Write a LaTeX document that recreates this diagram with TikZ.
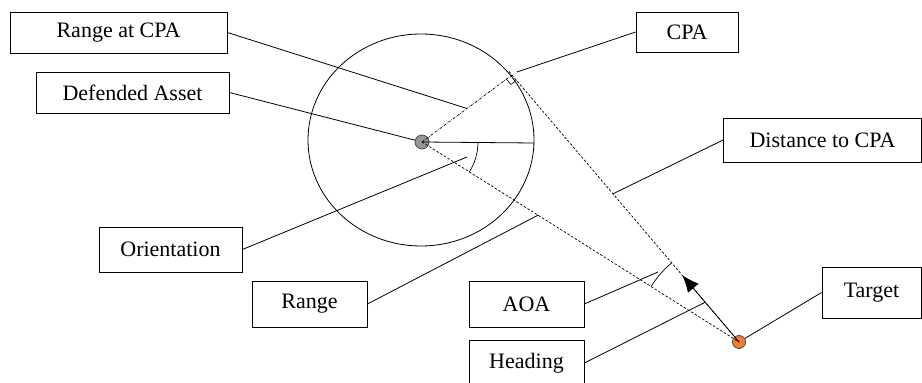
\documentclass[tikz,border=0pt]{standalone}
\usepackage{fontspec}
\setmainfont{Liberation Serif}
\usetikzlibrary{calc}
\usetikzlibrary{arrows.meta,angles}

\definecolor{assetgray}{RGB}{150,150,150}
\definecolor{targetorange}{RGB}{237,125,49}

\begin{document}
\begin{tikzpicture}[x=1pt, y=1pt, line width=0.8pt,
        labelbox/.style={draw, rectangle, inner sep=0pt, minimum height=41pt,
            font=\fontsize{22}{26}\selectfont},
        sightline/.style={dash pattern=on 2.5pt off 1.8pt, line width=0.7pt},
        cpaline/.style={dash pattern=on 2.5pt off 1.2pt on 0.6pt off 1.2pt, line width=0.7pt}]
    \useasboundingbox (0,0) rectangle (922,383);

    % Range circle around the defended asset
    \draw (421,243) ellipse [x radius=113, y radius=106];

    % Defended asset, target and closest point of approach
    \node [draw=black!70, circle, fill=assetgray, minimum size=14pt, inner sep=0pt] (asset) at (422,241) {};
    \node [draw=black!70, circle, fill=targetorange, minimum size=13pt, inner sep=0pt] (target) at (739,41) {};
    \coordinate (cpa) at (512,308);
    \coordinate (rim) at (534,240);
    \coordinate (head) at ($(target.center)!0.25!(cpa)$);

    % Geometry lines
    \draw (asset.center) -- (rim);
    \draw [sightline] (asset.center) -- (target.center);
    \draw [cpaline] (asset.center) -- (cpa);
    \draw [sightline] (target.center) -- ($(target.center)!1.015!(cpa)$);
    \draw [-{Latex[length=17pt,width=14pt]}] (target.center) -- (head);

    % Right angle at CPA
    \coordinate (ra) at ($(cpa)!7pt!(asset.center)$);
    \coordinate (rt) at ($(cpa)!7pt!(target.center)$);
    \draw [line width=0.6pt] (ra) -- ($(ra)+(rt)-(cpa)$) -- (rt);

    % Orientation and angle of approach
    \pic [draw, line width=0.7pt, angle radius=56pt] {angle = target--asset--rim};
    \pic [draw, line width=0.7pt, angle radius=104pt] {angle = cpa--target--asset};

    % Label boxes
    \node [labelbox, minimum width=217pt] (rangecpabox) at (118.5,350.5) {Range at CPA};
    \node [labelbox, minimum width=193pt] (assetbox) at (132.5,290.5) {Defended Asset};
    \node [labelbox, minimum width=143pt, minimum height=45pt] (orientbox) at (170.5,133.5) {Orientation};
    \node [labelbox, minimum width=115pt, minimum height=46pt] (rangebox) at (309.5,79) {Range};
    \node [labelbox, minimum width=115pt, minimum height=46pt] (aoabox) at (526.5,79) {AOA};
    \node [labelbox, minimum width=115pt, minimum height=46pt] (headingbox) at (526.5,20) {Heading};
    \node [labelbox, minimum width=102pt, minimum height=40pt] (cpabox) at (687,351) {CPA};
    \node [labelbox, minimum width=198pt, minimum height=44pt] (distbox) at (822.5,243) {Distance to CPA};
    \node [labelbox, minimum width=99pt, minimum height=51pt] (targetbox) at (871.5,90.5) {Target};

    % Leaders
    \draw (rangecpabox.east) -- ($(asset.center)!0.5!(cpa)$);
    \draw (assetbox.east) -- (asset);
    \draw (orientbox.east) -- (467,226);
    \draw (rangebox.east) -- ($(asset.center)!0.366!(target.center)$);
    \draw (aoabox.east) -- (658,111);
    \draw (headingbox.east) -- ($(target.center)!0.149!(cpa)$);
    \draw (cpabox.west) -- (517,311);
    \draw (distbox.west) -- ($(target.center)!0.555!(cpa)$);
    \draw (targetbox.west) -- (target);
\end{tikzpicture}
\end{document}
